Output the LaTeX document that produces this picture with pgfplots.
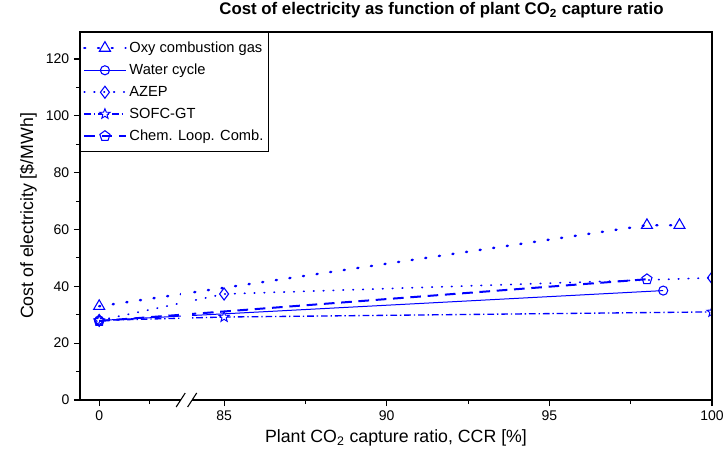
\documentclass[border=0pt]{standalone}
\usepackage{fontspec}
\setmainfont{Liberation Sans}
\usepackage{pgfplots}
\pgfplotsset{compat=1.18}
\usetikzlibrary{calc}
\definecolor{cblue}{RGB}{0,0,255}

% open five-pointed star mark
\pgfdeclareplotmark{ostar}{%
  \pgfpathmoveto{\pgfpointpolar{90}{\pgfplotmarksize}}%
  \foreach \a in {126,198,270,342} {%
    \pgfpathlineto{\pgfpointpolar{\a}{0.42\pgfplotmarksize}}%
    \pgfpathlineto{\pgfpointpolar{\a+36}{\pgfplotmarksize}}%
  }%
  \pgfpathlineto{\pgfpointpolar{54}{0.42\pgfplotmarksize}}%
  \pgfpathclose
  \pgfusepathqfillstroke
}

\begin{document}
\begin{tikzpicture}
\begin{axis}[
    scale only axis,
    width=474pt, height=276pt,
    xmin=80.57, xmax=100,
    ymin=0, ymax=129.5,
    % broken x axis: the value 0 is drawn just left of the break
    x coord trafo/.code={\pgfmathparse{#1<50 ? #1+81.16 : #1}},
    xtick={0,85,90,95,100},
    xticklabels={0,85,90,95,100},
    minor xtick={82.72,87.5,92.5,97.5},
    ytick={0,20,...,120},
    minor ytick={10,30,...,110},
    tick pos=left, tick align=outside,
    major tick length=4.5pt, minor tick length=3pt,
    tick style={black, line width=0.8pt},
    axis line style={line width=0.8pt},
    axis on top,
    clip marker paths=true,
    /pgf/number format/assume math mode=true,
    tick label style={font=\fontsize{10.5}{12}\selectfont},
    label style={font=\fontsize{13.3}{15}\selectfont},
    xlabel={Plant CO\textsubscript{2} capture ratio, CCR [\%]},
    ylabel={Cost of electricity [\$/MWh]},
    title={Cost of electricity as function of plant CO\textsubscript{2} capture ratio},
    title style={at={(0.572,1)}, anchor=base, yshift=6.75pt,
        font=\fontsize{12.6}{14}\selectfont\bfseries},
    legend style={at={(0,1)}, anchor=north west, draw=black, line width=0.6pt,
        font=\fontsize{11}{13}\selectfont, row sep=3.2pt,
        inner xsep=2pt, inner ysep=5pt},
    legend cell align=left,
    legend image code/.code={\draw[#1, mark repeat=2, mark phase=2]
        plot coordinates {(0pt,0pt) (15.5pt,0pt) (31pt,0pt)};},
    every axis plot/.append style={cblue},
]
\addplot[line width=1.8pt, line cap=round, dash pattern=on 0.8pt off 9.5pt,
    mark=triangle, mark size=4.8pt,
    mark options={solid, line width=0.8pt, fill=white}]
    coordinates {(0,33) (98,61.5) (99,61.5)};
\addlegendentry{Oxy combustion gas}
\addplot[line width=0.75pt, mark=o, mark size=3.4pt,
    mark options={solid, line width=0.8pt, fill=white}]
    coordinates {(0,28) (98.5,38.5)};
\addlegendentry{Water cycle}
\addplot[line width=1.3pt, line cap=round, dash pattern=on 0.4pt off 7pt,
    mark=diamond, mark size=4.5pt,
    mark options={solid, line width=0.8pt, fill=white}]
    coordinates {(0,28) (85,37.3) (100,43)};
\addlegendentry{AZEP}
\addplot[line width=1pt, dash pattern=on 5pt off 2.2pt on 1pt off 2.2pt,
    mark=ostar, mark size=4pt,
    mark options={solid, line width=0.7pt, fill=white}]
    coordinates {(0,28) (85,29.2) (100,31)};
\addlegendentry{SOFC-GT}
\addplot[line width=1.5pt, dash pattern=on 8pt off 5pt,
    mark=pentagon, mark size=4pt,
    mark options={solid, line width=0.8pt, fill=white}]
    coordinates {(0,27.8) (98,42.5)};
\addlegendentry{Chem. Loop. Comb.}
% gap in the curves at the axis break
\fill[white] (axis cs:83.68,0.4) rectangle (axis cs:84.02,129);
\coordinate (bk) at (axis cs:83.85,0);
\coordinate (sw) at (rel axis cs:0,0);
\coordinate (ne) at (rel axis cs:1,1);
\end{axis}
% break marks on the x axis
\fill[white] ($(bk)+(-4.5pt,-1pt)$) rectangle ($(bk)+(4.1pt,1pt)$);
\draw[line width=0.8pt] ($(bk)+(-7.9pt,-5.25pt)$) -- ($(bk)+(-1.1pt,5.25pt)$);
\draw[line width=0.8pt] ($(bk)+(0.7pt,-5.25pt)$) -- ($(bk)+(7.5pt,5.25pt)$);
\pgfresetboundingbox
\path ($(sw)+(-60pt,-45.75pt)$) rectangle ($(ne)+(12pt,24pt)$);
\end{tikzpicture}
\end{document}
